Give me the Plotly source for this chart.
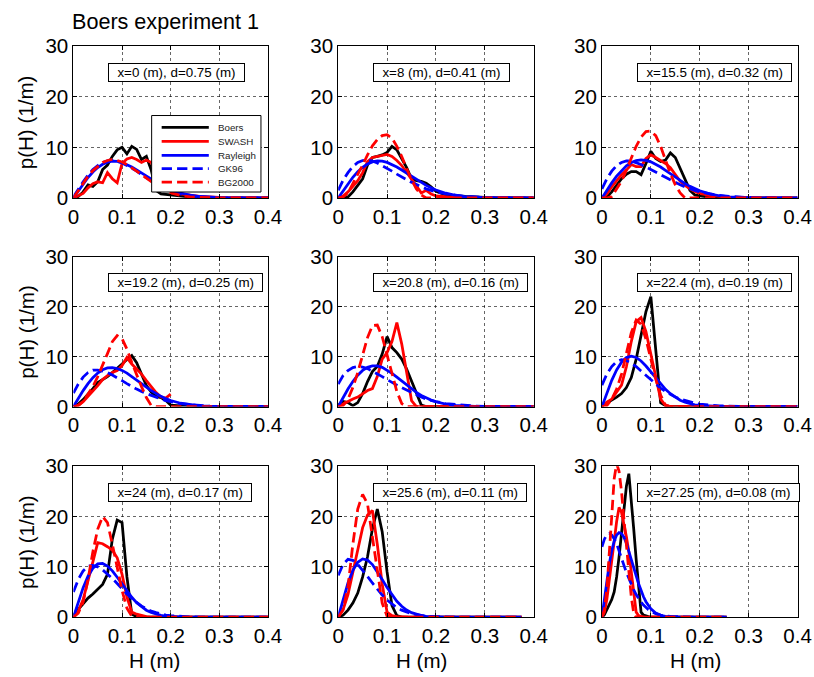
import plotly.graph_objects as go

# ---------------------------------------------------------------------------
# Wave-height distributions p(H) along the flume, Boers experiment 1
# ---------------------------------------------------------------------------

# Wave-height grids (m)
H_A = [0.00, 0.01, 0.02, 0.03, 0.04, 0.05, 0.06, 0.07, 0.08, 0.09, 0.10,
       0.11, 0.12, 0.13, 0.14, 0.15, 0.16, 0.17, 0.18, 0.19, 0.20,
       0.22, 0.24, 0.26, 0.28, 0.30, 0.40]
H_8 = [0.00, 0.01, 0.02, 0.03, 0.04, 0.05, 0.06, 0.07, 0.08, 0.09, 0.10,
       0.11, 0.12, 0.13, 0.14, 0.15, 0.16, 0.17, 0.18, 0.19, 0.20,
       0.22, 0.24, 0.26, 0.28, 0.30, 0.375]
H_9 = [0.000, 0.005, 0.010, 0.015, 0.020, 0.025, 0.030, 0.035, 0.040, 0.045,
       0.050, 0.055, 0.060, 0.065, 0.070, 0.075, 0.080, 0.085, 0.090, 0.095,
       0.100, 0.11, 0.12, 0.13, 0.14, 0.15, 0.16, 0.18, 0.20, 0.22, 0.255]

# Station labels
LABELS = ["x=0 (m), d=0.75 (m)", "x=8 (m), d=0.41 (m)", "x=15.5 (m), d=0.32 (m)",
          "x=19.2 (m), d=0.25 (m)", "x=20.8 (m), d=0.16 (m)", "x=22.4 (m), d=0.19 (m)",
          "x=24 (m), d=0.17 (m)", "x=25.6 (m), d=0.11 (m)", "x=27.25 (m), d=0.08 (m)"]

# p(H) (1/m) -- station 1
BOERS_1 = [0, 0.3, 1.2, 2.6, 2.3, 3.2, 5.6, 6.5, 8.2, 9.5, 10.0, 8.7, 10.2, 9.6, 7.6, 8.2, 5.5,
           1.5, 0.8, 0.7, 0.6, 0.3, 0.2, 0.1, 0.05, 0, 0]
SWASH_1 = [0, 0.5, 0.9, 2.0, 2.8, 3.2, 3.0, 5.0, 3.8, 3.0, 6.8, 7.7, 8.0, 7.6, 7.0, 7.5, 7.0,
           5.0, 3.2, 2.0, 1.4, 0.8, 0.5, 0.3, 0.2, 0.1, 0]
RAYL_1 = [0, 1.43, 2.79, 4.04, 5.13, 6.00, 6.66, 7.08, 7.26, 7.23, 7.01, 6.63, 6.13, 5.55, 4.93,
          4.28, 3.66, 3.07, 2.53, 2.04, 1.63, 0.98, 0.55, 0.29, 0.14, 0.07, 0]
GK96_1 = [0.2, 1.8, 3.2, 4.5, 5.6, 6.4, 7.0, 7.3, 7.4, 7.2, 6.9, 6.4, 5.9, 5.3, 4.6, 4.0, 3.4,
          2.8, 2.3, 1.8, 1.4, 0.8, 0.4, 0.2, 0.1, 0.05, 0]
BG_1 = [0, 1.5, 3.0, 4.3, 5.4, 6.3, 7.0, 7.4, 7.6, 7.4, 7.1, 6.6, 6.0, 5.3, 4.6, 3.9, 3.2,
        2.5, 1.9, 1.4, 1.0, 0.5, 0.2, 0.1, 0, 0, 0]

# station 2
BOERS_2 = [0, 0, 0.2, 1.2, 2.5, 3.8, 6.5, 8.0, 8.2, 8.5, 9.0, 10.2, 9.5, 7.8, 6.0, 3.8, 3.4,
           3.3, 2.9, 2.2, 1.3, 0.6, 0.4, 0.3, 0.2, 0.1, 0]
SWASH_2 = [0, 0.4, 1.2, 2.2, 3.4, 5.0, 7.2, 8.0, 8.2, 8.5, 8.6, 8.2, 7.4, 6.4, 5.0, 3.6, 2.3,
           1.0, 1.5, 0.8, 0.4, 0.2, 0.1, 0.1, 0.05, 0, 0]
RAYL_2 = [0, 1.45, 2.83, 4.09, 5.18, 6.05, 6.70, 7.12, 7.30, 7.26, 7.02, 6.63, 6.12, 5.53, 4.90,
          4.24, 3.61, 3.02, 2.48, 2.00, 1.58, 0.94, 0.53, 0.28, 0.14, 0.06, 0]
GK96_2 = [1.5, 3.5, 5.0, 6.2, 7.0, 7.4, 7.5, 7.3, 6.9, 6.4, 5.9, 5.3, 4.7, 4.1, 3.6, 3.1, 2.6,
          2.2, 1.8, 1.5, 1.2, 0.8, 0.5, 0.3, 0.2, 0.1, 0]
BG_2 = [0, 0.2, 1.0, 2.8, 4.5, 6.5, 8.5, 10.3, 11.5, 12.3, 12.5, 11.8, 10.2, 8.2, 5.8, 3.6, 1.8,
        0.6, 0, 0, 0, 0, 0, 0, 0, 0, 0]

# station 3
BOERS_3 = [0, 0.2, 1.2, 2.6, 3.8, 4.7, 5.2, 5.2, 4.6, 6.8, 9.2, 7.8, 7.2, 7.5, 8.9, 8.0, 5.8,
           3.6, 1.5, 0.6, 0.4, 0.2, 0.1, 0.05, 0, 0, 0]
SWASH_3 = [0, 0.8, 2.2, 3.5, 4.6, 5.5, 6.6, 6.2, 6.2, 7.8, 8.5, 8.0, 7.4, 6.8, 6.0, 4.6, 3.3,
           2.5, 1.8, 1.3, 0.9, 0.5, 0.3, 0.15, 0.1, 0.05, 0]
RAYL_3 = [0, 1.53, 2.98, 4.31, 5.44, 6.35, 7.00, 7.39, 7.52, 7.42, 7.13, 6.67, 6.11, 5.45, 4.76,
          4.09, 3.44, 2.84, 2.29, 1.82, 1.42, 0.82, 0.44, 0.22, 0.10, 0.05, 0]
GK96_3 = [1.8, 3.8, 5.3, 6.4, 7.0, 7.3, 7.3, 7.0, 6.6, 6.1, 5.6, 5.0, 4.5, 4.0, 3.5, 3.0, 2.6,
          2.2, 1.8, 1.5, 1.2, 0.8, 0.5, 0.3, 0.2, 0.1, 0]
BG_3 = [0, 0, 0.3, 1.8, 3.3, 5.5, 8.0, 10.2, 12.0, 13.1, 13.2, 12.3, 10.2, 7.5, 4.8, 2.6, 1.0,
        0, 0, 0, 0, 0, 0, 0, 0, 0, 0]

# station 4
BOERS_4 = [0, 0.5, 1.4, 2.4, 3.6, 4.8, 5.4, 6.0, 6.8, 7.6, 8.5, 9.4, 10.2, 8.8, 6.6, 4.2, 2.9,
           2.0, 1.8, 1.2, 0.3, 0.1, 0, 0, 0, 0, 0]
SWASH_4 = [0, 0.3, 1.0, 2.0, 3.0, 4.2, 5.4, 6.2, 6.8, 7.2, 8.2, 9.8, 8.5, 7.6, 6.5, 5.2, 4.0,
           2.8, 1.9, 1.7, 2.5, None, None, None, None, None, None]
RAYL_4 = [0, 1.64, 3.20, 4.60, 5.79, 6.72, 7.37, 7.72, 7.78, 7.62, 7.24, 6.69, 6.03, 5.31, 4.58,
          3.87, 3.20, 2.59, 2.05, 1.59, 1.21, 0.67, 0.34, 0.16, 0.07, 0.03, 0]
GK96_4 = [2.7, 4.5, 5.9, 6.8, 7.3, 7.3, 7.1, 6.8, 6.3, 5.8, 5.2, 4.6, 4.0, 3.5, 3.0, 2.6, 2.2,
          1.8, 1.5, 1.2, 1.0, 0.6, 0.4, 0.2, 0.1, 0.05, 0]
BG_4 = [0, 0.2, 1.0, 2.4, 4.0, 6.0, 8.2, 10.6, 13.0, 14.2, 13.6, 11.5, 8.8, 6.3, 4.0, 1.8, 0.2,
        0, 0, 0, 0, 0, 0, 0, 0, 0, 0]

# station 5
BOERS_5 = [0.3, 1.0, 0.8, 0.2, 0.8, 2.6, 5.0, 7.0, 8.0, 10.5, 14.0, 11.8, 10.8, 9.5, 7.5, 5.0, 2.5,
           0.3, 0, 0, 0, 0, 0, 0, 0, 0, 0]
SWASH_5 = [0, 0.5, 1.1, 1.5, 1.9, 2.6, 3.2, 3.6, 6.0, 9.5, 10.8, 13.0, 16.8, 12.5, 7.0, 1.2, 0,
           0, 0, 0, 0, 0, 0, 0, 0, 0, 0]
RAYL_5 = [0, 1.80, 3.50, 5.02, 6.28, 7.23, 7.85, 8.14, 8.13, 7.84, 7.32, 6.66, 5.90, 5.09, 4.29,
          3.53, 2.85, 2.24, 1.73, 1.30, 0.97, 0.50, 0.24, 0.10, 0.04, 0.015, 0]
GK96_5 = [4.5, 6.2, 7.2, 7.8, 8.0, 7.9, 7.6, 7.1, 6.6, 6.0, 5.4, 4.8, 4.3, 3.8, 3.3, 2.8, 2.3,
          1.9, 1.5, 1.2, 1.0, 0.6, 0.4, 0.2, 0.1, 0.05, 0]
BG_5 = [0, 0.2, 1.5, 3.8, 6.8, 10.2, 13.8, 16.2, 16.3, 14.0, 10.3, 6.2, 3.0, 0.6, 0, 0, 0,
        0, 0, 0, 0, 0, 0, 0, 0, 0, 0]

# station 6
BOERS_6 = [0.2, 0.7, 1.3, 1.9, 2.6, 3.8, 5.8, 9.5, 14.5, 19.0, 22.0, 11.5, 0.8, 0.2, 0, 0, 0,
           0, 0, 0, 0, 0, 0, 0, 0, 0, 0]
SWASH_6 = [0, 0.9, 1.5, 2.8, 4.3, 8.0, 13.0, 17.0, 17.8, 15.0, 10.7, 6.0, 1.5, 0.2, 0, 0, 0,
           0, 0, 0, 0, 0, 0, 0, 0, 0, 0]
RAYL_6 = [0, 2.73, 5.24, 7.33, 8.87, 9.80, 10.1, 9.83, 9.12, 8.12, 6.95, 5.69, 4.52, 3.46, 2.57,
          1.85, 1.28, 0.87, 0.56, 0.35, 0.22, 0.07, 0.02, 0, 0, 0, 0]
GK96_6 = [4.3, 6.5, 8.0, 9.0, 9.4, 9.2, 8.7, 8.0, 7.1, 6.2, 5.3, 4.5, 3.7, 3.0, 2.4, 1.9, 1.5,
          1.2, 0.9, 0.7, 0.5, 0.3, 0.15, 0.08, 0.04, 0, 0]
BG_6 = [0, 0.2, 1.5, 3.5, 6.5, 10.5, 14.8, 17.3, 16.5, 13.5, 9.3, 5.5, 2.3, 0.3, 0, 0, 0,
        0, 0, 0, 0, 0, 0, 0, 0, 0, 0]

# station 7
BOERS_7 = [0.4, 1.5, 2.5, 3.8, 4.6, 5.5, 6.5, 8.5, 15.5, 19.3, 18.8, 8.0, 0.6, 0.1, 0, 0, 0,
           0, 0, 0, 0, 0, 0, 0, 0, 0, 0]
SWASH_7 = [0, 1.2, 3.5, 7.0, 11.0, 14.8, 14.6, 14.0, 13.3, 11.8, 8.5, 4.0, 1.0, 0.6, 0.3, 0.1, 0,
           0, 0, 0, 0, 0, 0, 0, 0, 0, 0]
RAYL_7 = [0, 3.08, 5.87, 8.15, 9.74, 10.58, 10.68, 10.17, 9.20, 7.93, 6.55, 5.19, 3.95, 2.89, 2.05,
          1.39, 0.92, 0.58, 0.36, 0.21, 0.12, 0.04, 0.01, 0, 0, 0, 0]
GK96_7 = [5.0, 7.5, 9.2, 10.1, 10.3, 10.0, 9.4, 8.6, 7.7, 6.7, 5.6, 4.6, 3.7, 2.9, 2.2, 1.7, 1.2,
          0.9, 0.6, 0.4, 0.3, 0.15, 0.07, 0.03, 0, 0, 0]
BG_7 = [0, 0.8, 3.0, 7.5, 13.0, 17.5, 20.0, 18.8, 14.5, 9.8, 5.3, 1.8, 0.2, 0, 0, 0, 0,
        0, 0, 0, 0, 0, 0, 0, 0, 0, 0]

# station 8
BOERS_8 = [0, 0.4, 1.4, 2.8, 4.8, 8.0, 12.0, 17.5, 21.5, 17.0, 9.0, 2.3, 0.3, 0, 0, 0, 0,
           0, 0, 0, 0, 0, 0, 0, 0, 0, 0]
SWASH_8 = [0, 1.5, 4.5, 9.0, 13.5, 17.8, 20.3, 21.2, 14.5, 6.6, 1.0, 0.3, 0.1, 0, 0, 0, 0,
           0, 0, 0, 0, 0, 0, 0, 0, 0, 0]
RAYL_8 = [0, 3.59, 6.79, 9.30, 10.91, 11.57, 11.35, 10.46, 9.09, 7.51, 5.88, 4.41, 3.16, 2.17, 1.43,
          0.91, 0.55, 0.32, 0.18, 0.10, 0.05, 0.01, 0, 0, 0, 0, 0]
GK96_8 = [8.3, 10.5, 11.5, 11.3, 10.5, 9.4, 8.1, 6.8, 5.5, 4.4, 3.4, 2.6, 1.9, 1.4, 1.0, 0.7, 0.5,
          0.3, 0.2, 0.15, 0.1, 0.05, 0, 0, 0, 0, 0]
BG_8 = [0, 1.5, 6.0, 14.5, 21.5, 24.4, 22.5, 16.0, 8.5, 2.8, 0.2, 0, 0, 0, 0, 0, 0,
        0, 0, 0, 0, 0, 0, 0, 0, 0, 0]

# station 9
BOERS_9 = [0, 0.5, 1.5, 2.5, 3.5, 5.0, 8.0, 12.0, 16.5, 20.5, 26.0, 28.5, 23.5, 17.5, 11.5, 5.5,
           1.0, 0.4, 0.2, 0.1, 0, 0, 0, 0, 0, 0, 0, 0, 0, 0, 0]
SWASH_9 = [0, 1.0, 3.5, 7.0, 11.0, 15.0, 19.0, 21.8, 20.8, 18.5, 16.0, 13.0, 9.0, 4.2, 1.0, 0.3,
           0.1, 0, 0, 0, 0, 0, 0, 0, 0, 0, 0, 0, 0, 0, 0]
RAYL_9 = [0, 3.81, 7.40, 10.58, 13.18, 15.11, 16.33, 16.80, 16.62, 15.88, 14.71, 13.20, 11.55,
          9.85, 8.19, 6.64, 5.26, 4.06, 3.07, 2.27, 1.65, 0.81, 0.37, 0.15, 0.06, 0.02, 0,
          0, 0, 0, 0]
GK96_9 = [14.0, 15.5, 16.4, 16.6, 16.3, 15.6, 14.6, 13.3, 11.8, 10.3, 8.9, 7.6, 6.4, 5.4, 4.5,
          3.7, 3.0, 2.4, 1.9, 1.5, 1.2, 0.7, 0.4, 0.25, 0.15, 0.1, 0.05, 0, 0, 0, 0]
BG_9 = [0, 1.5, 5.5, 12.0, 20.0, 27.5, 30.5, 29.0, 25.0, 19.5, 14.0, 8.5, 4.0, 0.8, 0, 0,
        0, 0, 0, 0, 0, 0, 0, 0, 0, 0, 0, 0, 0, 0, 0]

STATIONS = [
    (H_A, BOERS_1, SWASH_1, RAYL_1, GK96_1, BG_1),
    (H_A, BOERS_2, SWASH_2, RAYL_2, GK96_2, BG_2),
    (H_A, BOERS_3, SWASH_3, RAYL_3, GK96_3, BG_3),
    (H_A, BOERS_4, SWASH_4, RAYL_4, GK96_4, BG_4),
    (H_A, BOERS_5, SWASH_5, RAYL_5, GK96_5, BG_5),
    (H_A, BOERS_6, SWASH_6, RAYL_6, GK96_6, BG_6),
    (H_A, BOERS_7, SWASH_7, RAYL_7, GK96_7, BG_7),
    (H_8, BOERS_8, SWASH_8, RAYL_8, GK96_8, BG_8),
    (H_9, BOERS_9, SWASH_9, RAYL_9, GK96_9, BG_9),
]

SERIES = ["Boers", "SWASH", "Rayleigh", "GK96", "BG2000"]
COLORS = ["#000000", "#ff0000", "#0000ff", "#0000ff", "#ff0000"]

X_TICKS = [0, 0.1, 0.2, 0.3, 0.4]
X_TICKTEXT = ["0", "0.1", "0.2", "0.3", "0.4"]
Y_TICKS = [0, 10, 20, 30]

FONT = "Arial, Liberation Sans, Helvetica, sans-serif"

# Layout is specified in window pixels; the page keeps an 8 px body margin and
# is photographed at a slight reduction, so positions and sizes are converted.
SCALE = 0.973
BODY_MARGIN = 8
W, HGT = 828, 688

def fx(p):
    return (p / SCALE - BODY_MARGIN) / W

def fy(p):
    return 1 - (p / SCALE - BODY_MARGIN) / HGT

def fs(v):
    return v / SCALE

COL_PX = [(75, 269), (339, 534), (602, 797)]
ROW_PX = [(42, 195), (254, 405), (465, 617)]
LW = fs(2.7)
DASH = "%.1fpx,%.1fpx" % (fs(10), fs(5))
DASHES = ["solid", "solid", "solid", DASH, DASH]

fig = go.Figure()
layout = dict(
    width=W, height=HGT, margin=dict(l=0, r=0, t=0, b=0),
    paper_bgcolor="white", plot_bgcolor="white", showlegend=False,
    font=dict(family=FONT, color="black"),
)

axis_common = dict(
    showline=True, linecolor="black", linewidth=1, mirror="ticks",
    ticks="inside", ticklen=4, tickcolor="black", tickwidth=1,
    showgrid=True, gridcolor="rgba(0,0,0,0.6)", gridwidth=1, griddash="dot",
    zeroline=False, fixedrange=True,
    tickfont=dict(family=FONT, size=fs(20), color="black"),
)

annotations = []
shapes = []

for i, (hh, *curves) in enumerate(STATIONS):
    r, c = divmod(i, 3)
    n = "" if i == 0 else str(i + 1)
    x0, x1 = COL_PX[c]
    y0, y1 = ROW_PX[r]
    layout["xaxis" + n] = dict(axis_common, domain=[fx(x0), fx(x1)], anchor="y" + n,
                               range=[0, 0.4], tickvals=X_TICKS, ticktext=X_TICKTEXT)
    layout["yaxis" + n] = dict(axis_common, domain=[fy(y1), fy(y0)],
                               anchor="x" + n, range=[0, 30], tickvals=Y_TICKS)
    for name, vals, col, dash in zip(SERIES, curves, COLORS, DASHES):
        fig.add_trace(go.Scatter(
            x=hh, y=vals, mode="lines", name=name, xaxis="x" + n, yaxis="y" + n,
            line=dict(color=col, width=LW, dash=dash), connectgaps=False,
            hoverinfo="skip",
        ))
    nb = "\u00a0\u00a0"
    annotations.append(dict(
        text=nb + LABELS[i] + nb, xref="x" + n, yref="y" + n, x=0.072, y=24.8,
        xanchor="left", yanchor="middle", showarrow=False,
        font=dict(family=FONT, size=fs(13), color="black"),
        bgcolor="white", bordercolor="black", borderwidth=1, borderpad=1,
    ))

# y-axis titles (left column) and x-axis titles (bottom row)
for (y0, y1) in ROW_PX:
    annotations.append(dict(
        text="p(H) (1/m)", xref="paper", yref="paper", x=fx(28),
        y=fy((y0 + y1) / 2), textangle=-90, showarrow=False,
        xanchor="center", yanchor="middle", font=dict(family=FONT, size=fs(20))))
for xc in (156, 422, 695):
    annotations.append(dict(
        text="H (m)", xref="paper", yref="paper", x=fx(xc), y=fy(661),
        showarrow=False, xanchor="center", yanchor="middle",
        font=dict(family=FONT, size=fs(20))))

annotations.append(dict(
    text="Boers experiment 1", xref="paper", yref="paper", x=fx(72), y=fy(17),
    showarrow=False, xanchor="left", yanchor="middle", font=dict(family=FONT, size=fs(21))))

# Legend box inside the first panel
px0, px1 = COL_PX[0]
py0, py1 = ROW_PX[0]
def dx(p):
    return (p - px0) / (px1 - px0)
def dy(p):
    return (py1 - p) / (py1 - py0)

shapes.append(dict(type="rect", xref="x domain", yref="y domain",
                   x0=dx(153), x1=dx(262), y0=dy(189), y1=dy(112),
                   fillcolor="white", line=dict(color="black", width=1), layer="above"))
row_y = [124, 138, 152, 165.5, 179]
for name, col, dash, ry in zip(SERIES, COLORS, DASHES, row_y):
    shapes.append(dict(type="line", xref="x domain", yref="y domain",
                       x0=dx(163), x1=dx(210), y0=dy(ry), y1=dy(ry),
                       line=dict(color=col, width=LW, dash=dash), layer="above"))
    annotations.append(dict(
        text=name, xref="x domain", yref="y domain", x=dx(217), y=dy(ry),
        xanchor="left", yanchor="middle", showarrow=False,
        font=dict(family=FONT, size=fs(9.5), color="#222")))

layout["annotations"] = annotations
layout["shapes"] = shapes
fig.update_layout(**layout)
fig.write_html("out.html")
